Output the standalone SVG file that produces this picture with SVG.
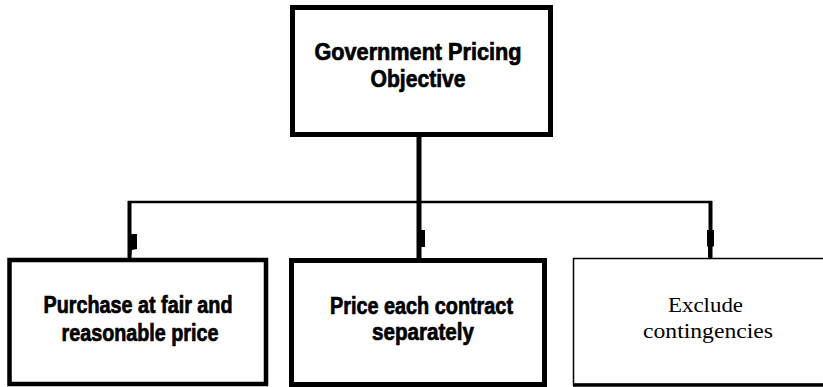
<svg xmlns="http://www.w3.org/2000/svg" width="823" height="387" viewBox="0 0 823 387">
<style>
.box{fill:#fff;stroke:#000}
.bold{font-family:"Liberation Sans",Arial,sans-serif;font-weight:bold;fill:#000;stroke:#000;stroke-width:0.7;text-anchor:middle}
.serif{font-family:"Liberation Serif","Times New Roman",serif;fill:#000;text-anchor:middle}
.ln{stroke:#000;fill:none}
.ah{fill:#000}
</style>
<rect width="823" height="387" fill="#fff"/>
<g id="connectors">
<line class="ln" x1="419" y1="137" x2="419" y2="259" stroke-width="5"/>
<line class="ln" x1="128" y1="202" x2="712" y2="202" stroke-width="2.5"/>
<line class="ln" x1="129.5" y1="201" x2="129.5" y2="259" stroke-width="4"/>
<line class="ln" x1="710.5" y1="201" x2="710.5" y2="259" stroke-width="4"/>
<path class="ah" d="M128 234 L137 234 L137 249 L132 250 L131 257 L128 257 Z"/>
<path class="ah" d="M419 230 L425 230 L425 247 L419 247 Z"/>
<path class="ah" d="M707 230 L714 230 L714 246 L712 247 L712 257 L708 257 L708 247 L707 246 Z"/>
</g>
<g id="n-top">
<rect class="box" x="292.5" y="7.5" width="258" height="127" stroke-width="5"/>
<text class="bold" x="418" y="60" font-size="23" textLength="207" lengthAdjust="spacingAndGlyphs">Government Pricing</text>
<text class="bold" x="418" y="87" font-size="23" textLength="95" lengthAdjust="spacingAndGlyphs">Objective</text>
</g>
<g id="n-purchase">
<rect class="box" x="9.5" y="260" width="256.5" height="124" stroke-width="4.5"/>
<text class="bold" x="138" y="313" font-size="23" textLength="189" lengthAdjust="spacingAndGlyphs">Purchase at fair and</text>
<text class="bold" x="140" y="341" font-size="23" textLength="157" lengthAdjust="spacingAndGlyphs">reasonable price</text>
</g>
<g id="n-price">
<rect class="box" x="291.5" y="260.5" width="253" height="124" stroke-width="5"/>
<text class="bold" x="421.5" y="314" font-size="23" textLength="183" lengthAdjust="spacingAndGlyphs">Price each contract</text>
<text class="bold" x="423" y="340" font-size="23" textLength="102" lengthAdjust="spacingAndGlyphs">separately</text>
</g>
<g id="n-exclude">
<rect class="box" x="573.5" y="258.5" width="260" height="126" stroke-width="1.5"/>
<line class="ln" x1="573" y1="385" x2="823" y2="385" stroke-width="3.5"/>
<text class="serif" x="705.5" y="312" font-size="21" textLength="75" lengthAdjust="spacingAndGlyphs">Exclude</text>
<text class="serif" x="708" y="338" font-size="21" textLength="130" lengthAdjust="spacingAndGlyphs">contingencies</text>
</g>
</svg>
